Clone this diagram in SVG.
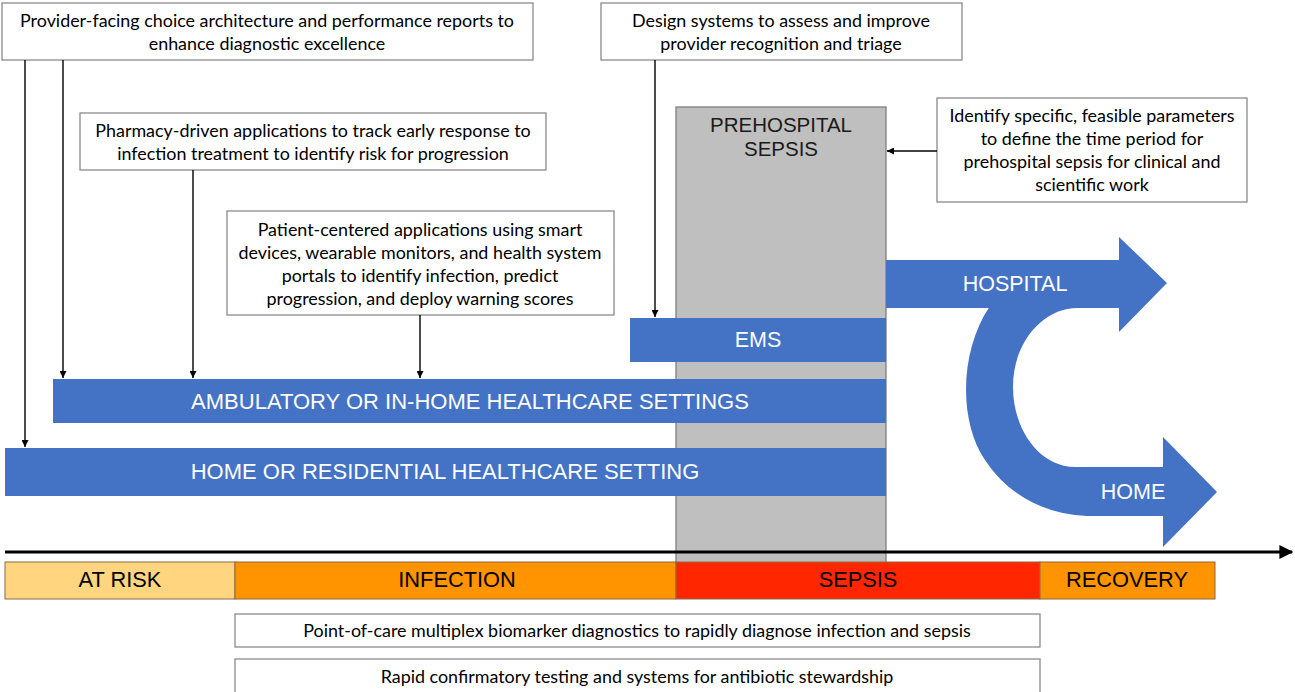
<svg xmlns="http://www.w3.org/2000/svg" width="1295" height="692" viewBox="0 0 1295 692">
  <defs>
    <marker id="tip" viewBox="0 0 10 10" refX="10" refY="5" markerWidth="7" markerHeight="7" markerUnits="userSpaceOnUse" orient="auto">
      <path d="M0,0 L10,5 L0,10 Z" fill="#000"/>
    </marker>
    <marker id="axisTip" viewBox="0 0 10 10" refX="9" refY="5" markerWidth="14" markerHeight="14" markerUnits="userSpaceOnUse" orient="auto">
      <path d="M0,0 L10,5 L0,10 Z" fill="#000"/>
    </marker>
    <style>
      .note { fill: #fff; stroke: #8a8a8a; stroke-width: 1.3; }
      .note-text { font-family: Lato, "Open Sans", sans-serif; font-size: 17.9px; fill: #000; text-anchor: middle; }
      .bar { fill: #4472C4; }
      .bar-text { font-family: "Liberation Sans", Arial, sans-serif; font-size: 22px; fill: #fff; text-anchor: middle; }
      .arrow-text { font-family: "Liberation Sans", Arial, sans-serif; font-size: 21.5px; fill: #fff; text-anchor: middle; }
      .window-text { font-family: "Liberation Sans", Arial, sans-serif; font-size: 20.5px; fill: #1a1a1a; text-anchor: middle; }
      .phase { stroke: #8a6a40; stroke-width: 1; }
      .phase-text { font-family: "Liberation Sans", Arial, sans-serif; font-size: 21.8px; fill: #000; text-anchor: middle; }
      .link { stroke: #000; stroke-width: 1.4; fill: none; marker-end: url(#tip); }
    </style>
  </defs>

  <rect width="1295" height="692" fill="#fff"/>

  <!-- prehospital window -->
  <g id="prehospital">
    <rect x="676" y="107" width="210" height="456" fill="#BFBFBF" stroke="#7f7f7f" stroke-width="1.3"/>
    <text class="window-text" x="781" y="132">PREHOSPITAL</text>
    <text class="window-text" x="781" y="156">SEPSIS</text>
  </g>

  <!-- care settings -->
  <g id="ems">
    <rect class="bar" x="630" y="318" width="256" height="44"/>
    <text class="arrow-text" x="758" y="347">EMS</text>
  </g>
  <g id="ambulatory">
    <rect class="bar" x="53" y="379" width="833" height="44"/>
    <text class="bar-text" x="470" y="409">AMBULATORY OR IN-HOME HEALTHCARE SETTINGS</text>
  </g>
  <g id="home-residential">
    <rect class="bar" x="5" y="448" width="881" height="48"/>
    <text class="bar-text" x="445" y="479">HOME OR RESIDENTIAL HEALTHCARE SETTING</text>
  </g>

  <!-- discharge pathways -->
  <g id="hospital">
    <path class="bar" d="M886 260 L1119 260 L1119 237 L1167 283 L1119 332 L1119 308 L886 308 Z"/>
    <text class="arrow-text" x="1015" y="291">HOSPITAL</text>
  </g>
  <g id="home">
    <path class="bar" d="M990 306 C960 350 958 420 985 460 C1010 498 1050 516 1093 516 L1163 516 L1163 547 L1217 492 L1163 437 L1163 467 L1075 467 C1040 467 1013 430 1013 387 C1013 340 1045 308 1077 308 L1077 306 Z"/>
    <text class="arrow-text" x="1133" y="499">HOME</text>
  </g>

  <!-- timeline -->
  <g id="timeline-axis">
    <line x1="5" y1="552" x2="1292" y2="552" stroke="#000" stroke-width="3" marker-end="url(#axisTip)"/>
  </g>
  <g id="phase-at-risk">
    <rect class="phase" x="5" y="562" width="230" height="37" fill="#FFD57F"/>
    <text class="phase-text" x="120" y="587">AT RISK</text>
  </g>
  <g id="phase-infection">
    <rect class="phase" x="235" y="562" width="441" height="37" fill="#FF9300"/>
    <text class="phase-text" x="457" y="587">INFECTION</text>
  </g>
  <g id="phase-sepsis">
    <rect class="phase" x="676" y="562" width="364" height="37" fill="#FF2600"/>
    <text class="phase-text" x="858" y="587">SEPSIS</text>
  </g>
  <g id="phase-recovery">
    <rect class="phase" x="1040" y="562" width="175" height="37" fill="#FF9300"/>
    <text class="phase-text" x="1127" y="587">RECOVERY</text>
  </g>

  <!-- intervention notes -->
  <g id="note-provider-facing">
    <rect class="note" x="2" y="3" width="531" height="57"/>
    <text class="note-text" x="267" y="27">Provider-facing choice architecture and performance reports to</text>
    <text class="note-text" x="267" y="50">enhance diagnostic excellence</text>
  </g>
  <g id="note-pharmacy">
    <rect class="note" x="80" y="113" width="466" height="57"/>
    <text class="note-text" x="313" y="137">Pharmacy-driven applications to track early response to</text>
    <text class="note-text" x="313" y="160">infection treatment to identify risk for progression</text>
  </g>
  <g id="note-patient-centered">
    <rect class="note" x="227" y="211" width="387" height="104"/>
    <text class="note-text" x="420" y="236">Patient-centered applications using smart</text>
    <text class="note-text" x="420" y="259">devices, wearable monitors, and health system</text>
    <text class="note-text" x="420" y="282">portals to identify infection, predict</text>
    <text class="note-text" x="420" y="305">progression, and deploy warning scores</text>
  </g>
  <g id="note-design-systems">
    <rect class="note" x="601" y="3" width="361" height="57"/>
    <text class="note-text" x="781" y="27">Design systems to assess and improve</text>
    <text class="note-text" x="781" y="50">provider recognition and triage</text>
  </g>
  <g id="note-parameters">
    <rect class="note" x="937" y="98" width="310" height="104"/>
    <text class="note-text" x="1092" y="122">Identify specific, feasible parameters</text>
    <text class="note-text" x="1092" y="145">to define the time period for</text>
    <text class="note-text" x="1092" y="168">prehospital sepsis for clinical and</text>
    <text class="note-text" x="1092" y="191">scientific work</text>
  </g>
  <g id="note-point-of-care">
    <rect class="note" x="235" y="614" width="805" height="33"/>
    <text class="note-text" x="637" y="637">Point-of-care multiplex biomarker diagnostics to rapidly diagnose infection and sepsis</text>
  </g>
  <g id="note-confirmatory">
    <rect class="note" x="235" y="659" width="805" height="40"/>
    <text class="note-text" x="637" y="683">Rapid confirmatory testing and systems for antibiotic stewardship</text>
  </g>

  <!-- connectors -->
  <g id="connectors">
    <line class="link" x1="25" y1="60" x2="25" y2="447"/>
    <line class="link" x1="63" y1="60" x2="63" y2="378"/>
    <line class="link" x1="193" y1="170" x2="193" y2="378"/>
    <line class="link" x1="420" y1="315" x2="420" y2="378"/>
    <line class="link" x1="655" y1="60" x2="655" y2="317"/>
    <line class="link" x1="937" y1="151" x2="887" y2="151"/>
  </g>
</svg>
